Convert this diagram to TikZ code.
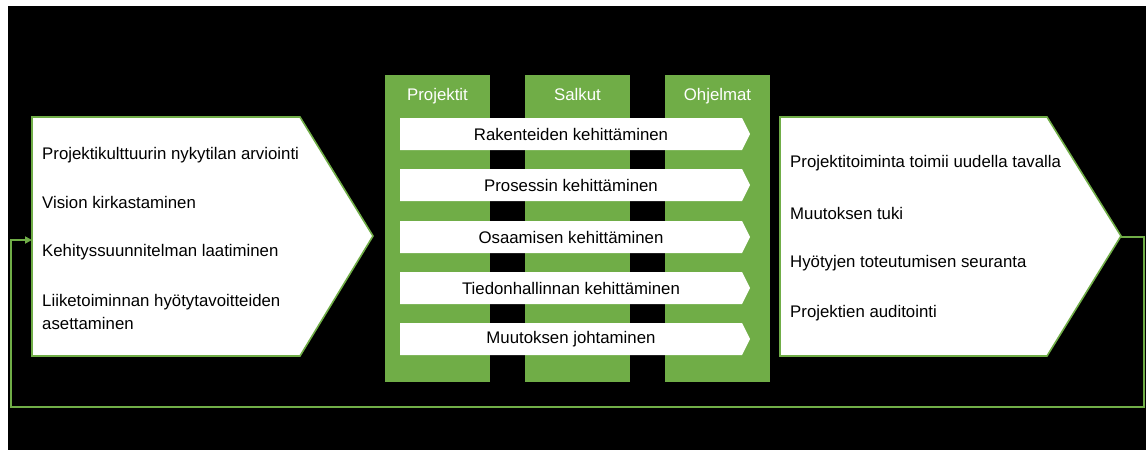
\documentclass[tikz,border=0pt]{standalone}
\usepackage{fontspec}
\setmainfont{Liberation Sans}
\usetikzlibrary{arrows.meta}
\definecolor{leaf}{HTML}{70AD47}
\begin{document}
\begin{tikzpicture}[x=1pt,y=-1pt,
  txt/.style={font=\fontsize{16.8}{20}\selectfont, text=black, inner sep=0pt},
  head/.style={font=\fontsize{16.8}{20}\selectfont, text=white, inner sep=0pt, anchor=base},
  column/.style={fill=leaf, draw=none},
  phase/.style={fill=white, draw=leaf, line width=1.6pt, line join=miter},
  bar/.style={fill=white, draw=none},
  loop/.style={draw=leaf, line width=2.4pt},
]
% page and backdrop
\fill[white] (0,0) rectangle (1146,450);
\fill[black] (8,6) rectangle (1146,450);
\useasboundingbox (0,0) rectangle (1146,450);

% three green columns
\foreach \x/\name/\lab in {385/proj/Projektit, 525/salk/Salkut, 665/ohj/Ohjelmat}{
  \fill[column] (\x,75) rectangle ++(105,307);
  \node[head] (\name) at (\x+52.5,100) {\lab};
}

% development areas crossing the columns
\foreach \y/\name/\lab in {118/a1/Rakenteiden kehittäminen, 169/a2/Prosessin kehittäminen,
  221/a3/Osaamisen kehittäminen, 272/a4/Tiedonhallinnan kehittäminen, 323/a5/Muutoksen johtaminen}{
  \fill[bar] (400,\y) -- (742,\y) -- (750,\y+16) -- (742,\y+32) -- (400,\y+32) -- cycle;
  \node[txt] (\name) at (571,\y+16) {\lab};
}

% starting phase
\filldraw[phase] (32,117) -- (300,117) -- (373,236) -- (300,356) -- (32,356) -- cycle;
\coordinate (inL) at (32,240);
\node[txt, anchor=west] (l1) at (42,155) {Projektikulttuurin nykytilan arviointi};
\node[txt, anchor=west] (l2) at (42,202) {Vision kirkastaminen};
\node[txt, anchor=west] (l3) at (42,252) {Kehityssuunnitelman laatiminen};
\node[txt, anchor=west, align=left] (l4) at (42,312) {Liiketoiminnan hyötytavoitteiden\\[3pt]asettaminen};

% resulting phase
\filldraw[phase] (780,117) -- (1047,117) -- (1121,236) -- (1047,356) -- (780,356) -- cycle;
\coordinate (outR) at (1121,237);
\node[txt, anchor=west] (r1) at (790,163) {Projektitoiminta toimii uudella tavalla};
\node[txt, anchor=west] (r2) at (790,213) {Muutoksen tuki};
\node[txt, anchor=west] (r3) at (790,263) {Hyötyjen toteutumisen seuranta};
\node[txt, anchor=west] (r4) at (790,313) {Projektien auditointi};

% feedback loop
\coordinate (c1) at (1144,237);
\coordinate (c2) at (1144,407);
\coordinate (c3) at (11,407);
\coordinate (c4) at (11,240);
\draw[loop, -{Triangle[length=7pt,width=7pt]}] (outR) -- (c1) -- (c2) -- (c3) -- (c4) -- (inL);
\end{tikzpicture}
\end{document}
